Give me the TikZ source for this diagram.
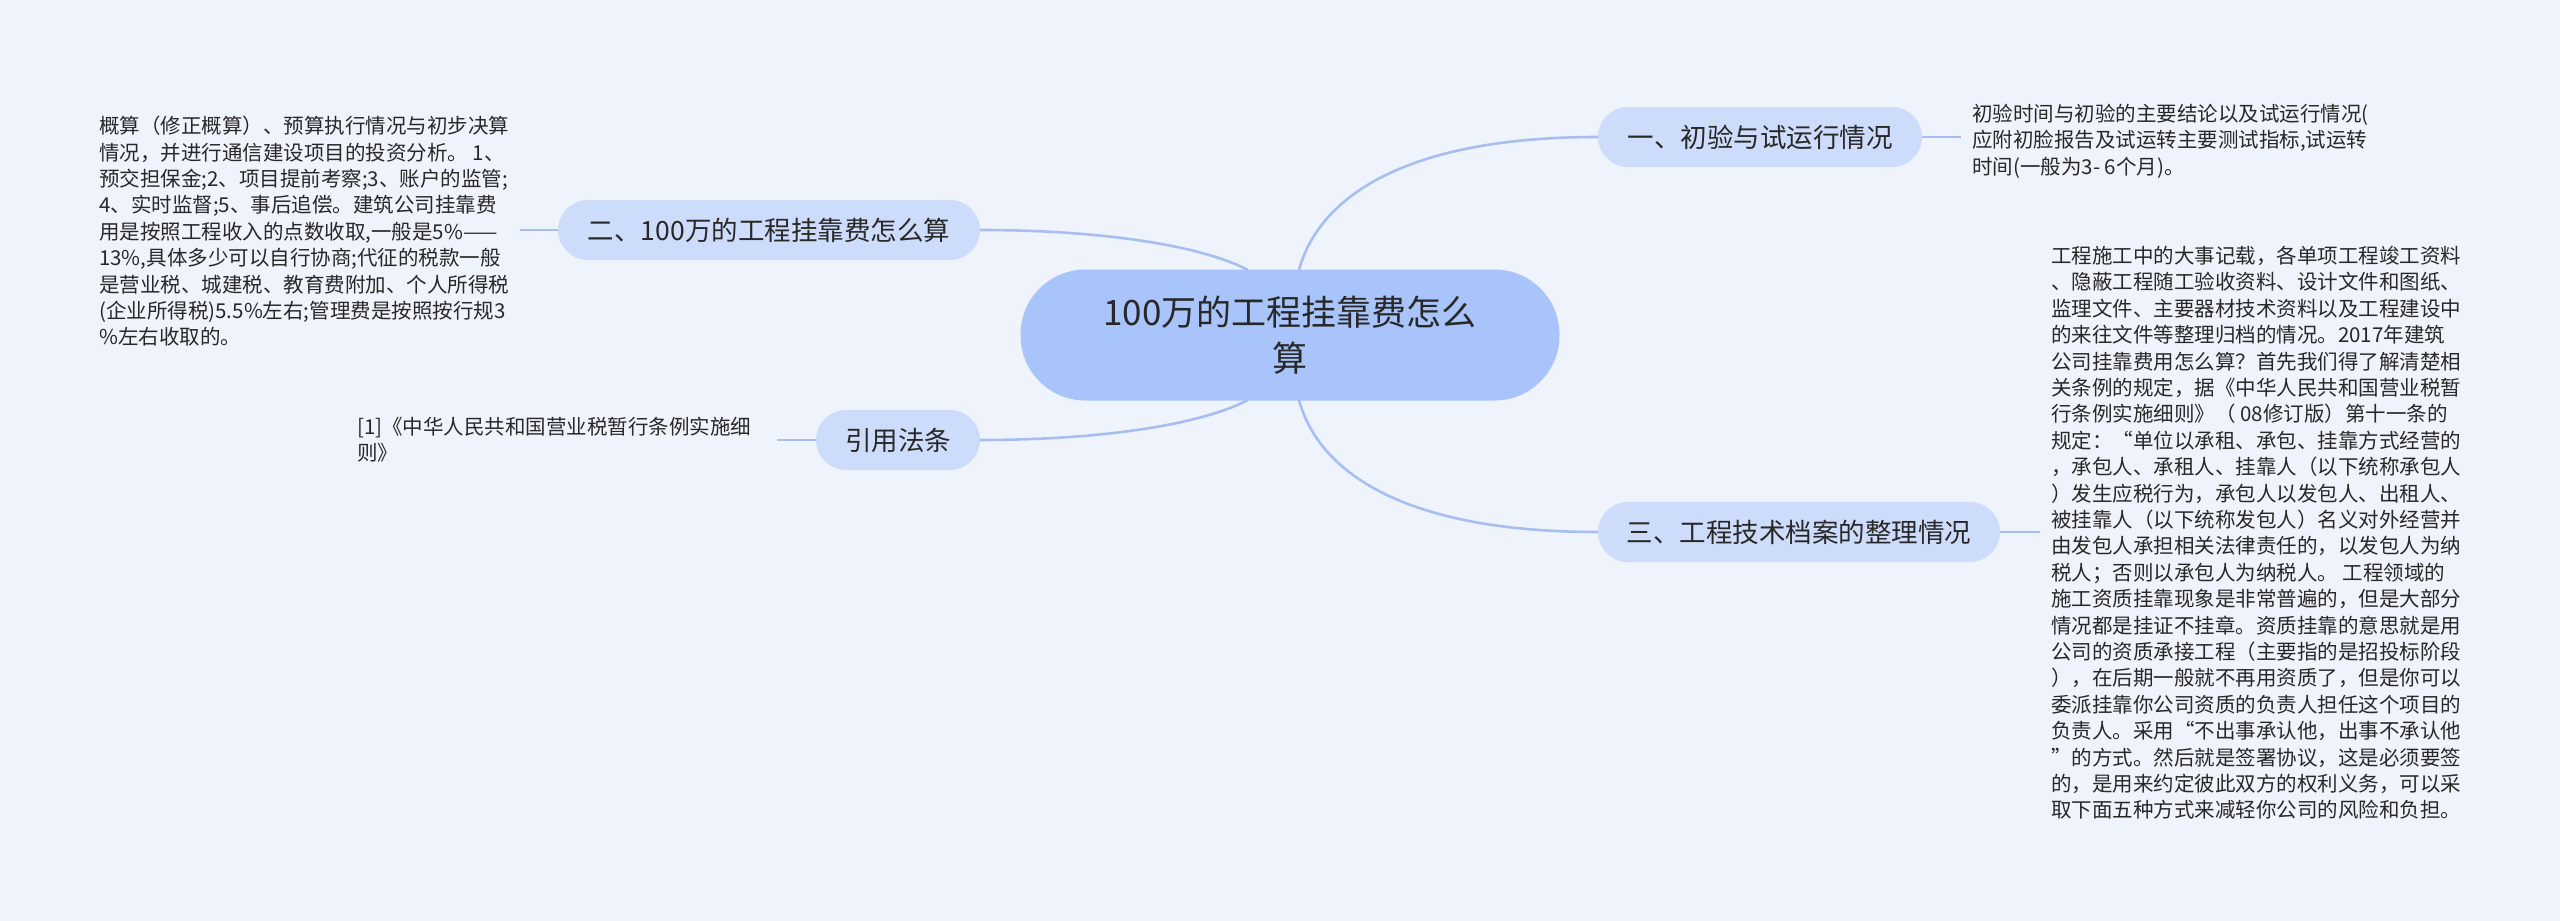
\documentclass[tikz,border=0pt]{standalone}
\usepackage{fontspec}
\setmainfont{Noto Sans CJK SC}
\definecolor{bg}{RGB}{239,243,252}
\definecolor{rootfill}{RGB}{169,196,250}
\definecolor{subfill}{RGB}{205,220,250}
\definecolor{linec}{RGB}{166,191,240}
\definecolor{txt}{RGB}{40,40,40}
\tikzset{
  rootbox/.style={fill=rootfill, draw=none, rounded corners=65pt, minimum width=539pt, minimum height=131pt, inner sep=0pt, align=center, text=txt, font=\fontsize{35}{46}\selectfont},
  subbox/.style={fill=subfill, draw=none, rounded corners=30pt, minimum height=60pt, inner sep=0pt, align=center, text=txt, font=\fontsize{26.5}{32}\selectfont},
  leaftext/.style={anchor=north west, inner sep=0pt, align=left, text=txt, font=\fontsize{20.5}{26.4}\selectfont},
  edge/.style={draw=linec, line width=2.6pt}
}
\begin{document}
\begin{tikzpicture}[x=1pt,y=-1pt]
\fill[bg] (0,0) rectangle (2560,921);
\useasboundingbox (0,0) rectangle (2560,921);

\node[rootbox] (root) at (1290,335) {100万的工程挂靠费怎么\\算};
\node[subbox, minimum width=324pt] (n1) at (1760,137) {一、初验与试运行情况};
\node[subbox, minimum width=422pt] (n2) at (769,230) {二、100万的工程挂靠费怎么算};
\node[subbox, minimum width=164pt] (law) at (898,440) {引用法条};
\node[subbox, minimum width=402pt] (n3) at (1799,532) {三、工程技术档案的整理情况};

\node[leaftext] (l1) at (1972,104) {初验时间与初验的主要结论以及试运行情况(\\应附初脸报告及试运转主要测试指标,试运转\\时间(一般为3- 6个月)。};

\node[leaftext] (l2) at (99,116) {概算（修正概算）、预算执行情况与初步决算\\情况，并进行通信建设项目的投资分析。 1、\\预交担保金;2、项目提前考察;3、账户的监管;\\4、实时监督;5、事后追偿。建筑公司挂靠费\\用是按照工程收入的点数收取,一般是5\%——\\13\%,具体多少可以自行协商;代征的税款一般\\是营业税、城建税、教育费附加、个人所得税\\(企业所得税)5.5\%左右;管理费是按照按行规3\\\%左右收取的。};

\node[leaftext] (l4) at (357,417) {[1]《中华人民共和国营业税暂行条例实施细\\则》};

\node[leaftext] (l3) at (2051,246) {工程施工中的大事记载，各单项工程竣工资料\\、隐蔽工程随工验收资料、设计文件和图纸、\\监理文件、主要器材技术资料以及工程建设中\\的来往文件等整理归档的情况。2017年建筑\\公司挂靠费用怎么算？首先我们得了解清楚相\\关条例的规定，据《中华人民共和国营业税暂\\行条例实施细则》（ 08修订版）第十一条的\\规定：“单位以承租、承包、挂靠方式经营的\\，承包人、承租人、挂靠人（以下统称承包人\\）发生应税行为，承包人以发包人、出租人、\\被挂靠人（以下统称发包人）名义对外经营并\\由发包人承担相关法律责任的，以发包人为纳\\税人；否则以承包人为纳税人。 工程领域的\\施工资质挂靠现象是非常普遍的，但是大部分\\情况都是挂证不挂章。资质挂靠的意思就是用\\公司的资质承接工程（主要指的是招投标阶段\\），在后期一般就不再用资质了，但是你可以\\委派挂靠你公司资质的负责人担任这个项目的\\负责人。采用“不出事承认他，出事不承认他\\”的方式。然后就是签署协议，这是必须要签\\的，是用来约定彼此双方的权利义务，可以采\\取下面五种方式来减轻你公司的风险和负担。};

\coordinate (rt1) at (1299,270);
\coordinate (rt2) at (1248,270);
\coordinate (rb1) at (1299,400);
\coordinate (rb2) at (1248,400);
\coordinate (e1) at (1961,137);
\coordinate (e2) at (520,230);
\coordinate (e3) at (2040,532);
\coordinate (e4) at (777,440);

\draw[edge] (rt1) .. controls (1318,200) and (1400,137) .. (n1.west);
\draw[edge] (rt2) .. controls (1200,245) and (1100,230) .. (n2.east);
\draw[edge] (rb2) .. controls (1200,425) and (1100,440) .. (law.east);
\draw[edge] (rb1) .. controls (1318,470) and (1400,532) .. (n3.west);

\draw[edge] (n1.east) -- (e1);
\draw[edge] (n2.west) -- (e2);
\draw[edge] (n3.east) -- (e3);
\draw[edge] (law.west) -- (e4);
\end{tikzpicture}
\end{document}
